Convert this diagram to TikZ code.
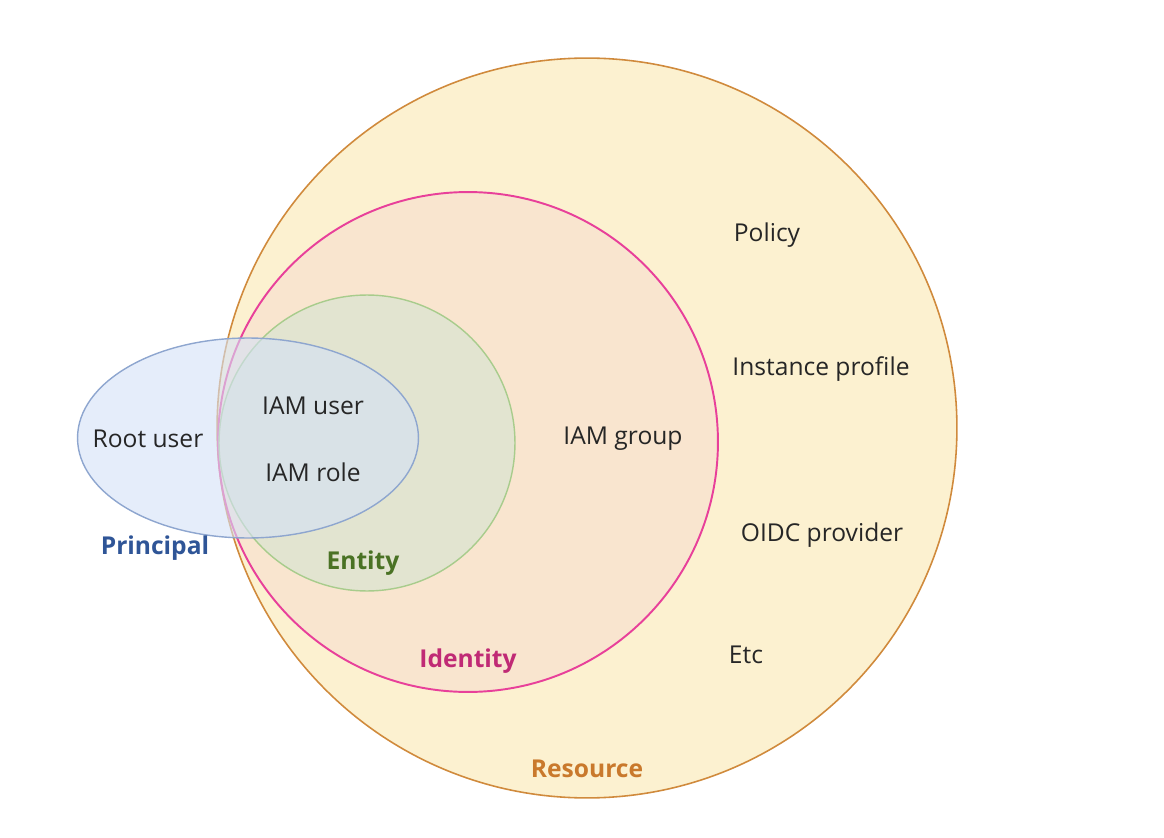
\documentclass[tikz,border=0pt]{standalone}
\usepackage{fontspec}
\setmainfont{Open Sans}
\usetikzlibrary{shapes.geometric}

\definecolor{resfill}{HTML}{FCF1D0}
\definecolor{resline}{HTML}{D08A3C}
\definecolor{restext}{HTML}{C9792C}
\definecolor{idfill}{HTML}{F9E5CF}
\definecolor{idline}{HTML}{E8409A}
\definecolor{idtext}{HTML}{C02A75}
\definecolor{entfill}{HTML}{E2E4D0}
\definecolor{entline}{HTML}{A8CC8C}
\definecolor{enttext}{HTML}{4A7224}
\definecolor{prfill}{HTML}{D4E1F7}
\definecolor{prline}{HTML}{8EA6CF}
\definecolor{prtext}{HTML}{2F5597}

\begin{document}
\begin{tikzpicture}[x=0.02cm, y=-0.02cm,
	set/.style={circle, inner sep=0pt, outer sep=0pt},
	lbl/.style={font=\fontsize{14}{16}\selectfont, text=black!85},
	setname/.style={font=\fontsize{14}{16}\selectfont\bfseries}]
	\useasboundingbox (0,0) rectangle (1164,838);
	% the sets
	\node[set, draw=resline, line width=0.9pt, fill=resfill, minimum size=14.8cm] (resource) at (587,428) {};
	\node[set, draw=idline, line width=1.1pt, fill=idfill, minimum size=10cm] (identity) at (468,442) {};
	\node[set, draw=entline, line width=0.8pt, fill=entfill, minimum size=5.92cm] (entity) at (367,443) {};
	\node[ellipse, inner sep=0pt, draw=prline, line width=0.8pt, fill=prfill, fill opacity=0.6,
		minimum width=6.82cm, minimum height=4cm] (principal) at (248,438) {};
	% members
	\node[lbl] (root) at (148,439) {Root user};
	\node[lbl] (iamuser) at (313,406) {IAM user};
	\node[lbl] (iamrole) at (313,472) {IAM role};
	\node[lbl] (iamgroup) at (623,439) {IAM group};
	\node[lbl] (policy) at (767,235) {Policy};
	\node[lbl] (instprof) at (821,369) {Instance profile};
	\node[lbl] (oidc) at (822,535) {OIDC provider};
	\node[lbl] (etc) at (746,655) {Etc};
	% set names
	\node[setname, text=prtext] (principalname) at (155,548) {Principal};
	\node[setname, text=enttext] (entityname) at (363,563) {Entity};
	\node[setname, text=idtext] (identityname) at (468,661) {Identity};
	\node[setname, text=restext] (resourcename) at (587,769) {Resource};
\end{tikzpicture}
\end{document}
